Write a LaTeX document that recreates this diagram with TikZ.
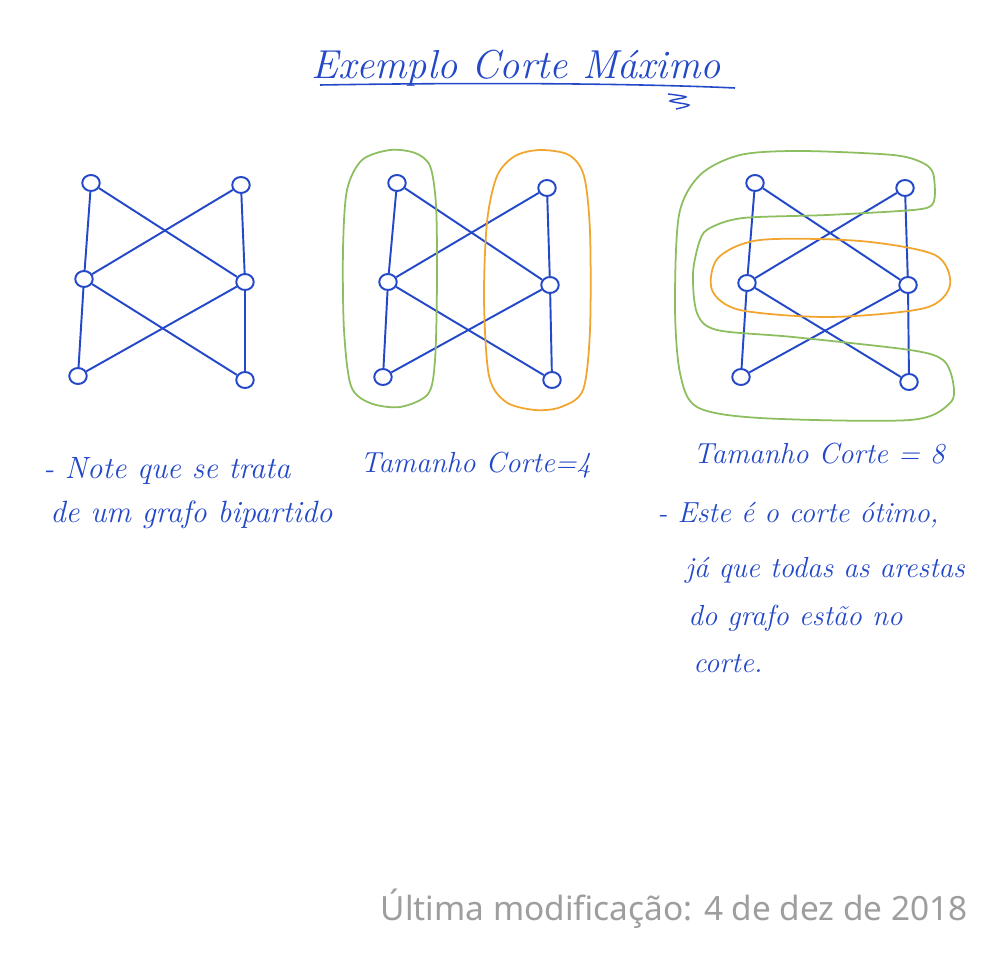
\documentclass[tikz,border=0pt]{standalone}
\usepackage{fontspec}
\newfontfamily\footfont{Noto Sans}
\usetikzlibrary{shapes.geometric}
\definecolor{penblue}{RGB}{35,72,200}
\definecolor{pengreen}{RGB}{140,190,95}
\definecolor{penorange}{RGB}{242,165,45}
\definecolor{footgray}{RGB}{158,158,158}
\tikzset{
  vtx/.style={ellipse, draw=penblue, line width=1.1pt, minimum width=0.35cm, minimum height=0.32cm, inner sep=0pt},
  edge/.style={draw=penblue, line width=1.1pt},
  hand/.style={text=penblue, font=\itshape\fontsize{16.5}{19}\selectfont, inner sep=0pt},
  handl/.style={hand, font=\itshape\fontsize{17.5}{20}\selectfont},
  grp/.style={line width=1pt, line join=round},
}
\begin{document}
\begin{tikzpicture}[x=0.02cm, y=-0.02cm]
\useasboundingbox (0,0) rectangle (1000,959);
\fill[white] (0,0) rectangle (1000,959);

% title
\node[hand, font=\itshape\fontsize{23}{27}\selectfont, anchor=base] (title) at (516,79) {Exemplo Corte Máximo};
\draw[penblue, line width=0.9pt] (320,85) .. controls (500,82) and (650,84) .. (735,88);
\draw[penblue, line width=0.8pt] plot[smooth] coordinates {(668,94) (686,97) (670,101) (689,105) (676,109)};

% graph 1
\node[vtx] (a1) at (91,183) {};
\node[vtx] (a2) at (241,185) {};
\node[vtx] (a3) at (84,279) {};
\node[vtx] (a4) at (245,282) {};
\node[vtx] (a5) at (78,376) {};
\node[vtx] (a6) at (245,380) {};
\draw[edge] (a1) -- (a3); \draw[edge] (a3) -- (a5);
\draw[edge] (a2) -- (a4); \draw[edge] (a4) -- (a6);
\draw[edge] (a1) -- (a4); \draw[edge] (a2) -- (a3);
\draw[edge] (a3) -- (a6); \draw[edge] (a5) -- (a4);

% graph 2
\node[vtx] (b1) at (397,183) {};
\node[vtx] (b2) at (547,188) {};
\node[vtx] (b3) at (388,282) {};
\node[vtx] (b4) at (550,285) {};
\node[vtx] (b5) at (383,377) {};
\node[vtx] (b6) at (552,380) {};
\draw[edge] (b1) -- (b3); \draw[edge] (b3) -- (b5);
\draw[edge] (b2) -- (b4); \draw[edge] (b4) -- (b6);
\draw[edge] (b1) -- (b4); \draw[edge] (b2) -- (b3);
\draw[edge] (b3) -- (b6); \draw[edge] (b5) -- (b4);
\draw[grp, pengreen] plot[smooth cycle] coordinates {(390,150) (415,153) (430,166) (436,205) (437,280) (435,360) (428,394) (400,407) (370,403) (351,386) (344,330) (343,250) (347,190) (362,160)};
\draw[grp, penorange] plot[smooth cycle] coordinates {(540,150) (569,155) (584,176) (590,232) (590,330) (583,390) (561,407) (535,410) (506,402) (489,376) (484,300) (487,222) (497,176) (515,156)};

% graph 3
\node[vtx] (c1) at (755,183) {};
\node[vtx] (c2) at (905,188) {};
\node[vtx] (c3) at (747,283) {};
\node[vtx] (c4) at (908,285) {};
\node[vtx] (c5) at (741,377) {};
\node[vtx] (c6) at (909,382) {};
\draw[edge] (c1) -- (c3); \draw[edge] (c3) -- (c5);
\draw[edge] (c2) -- (c4); \draw[edge] (c4) -- (c6);
\draw[edge] (c1) -- (c4); \draw[edge] (c2) -- (c3);
\draw[edge] (c3) -- (c6); \draw[edge] (c5) -- (c4);
\draw[grp, penorange] plot[smooth cycle] coordinates {(760,240) (860,241) (935,255) (950,285) (925,308) (830,317) (740,310) (712,290) (718,258)};
\draw[grp, pengreen] plot[smooth] coordinates {(935,192) (932,205) (913,210) (827,215) (743,218) (710,228) (700,240) (693,273) (697,313) (717,330) (793,337) (910,350) (943,360) (953,382) (950,403) (910,420) (760,418) (697,407) (680,373) (675,307) (679,215) (700,175) (740,155) (800,151) (893,155) (923,163) (933,173) (935,192)};

% labels
\node[handl, anchor=base west] (t1a) at (43,478) {- Note que se trata};
\node[handl, anchor=base west] (t1b) at (50,522) {de um grafo bipartido};
\node[hand, anchor=base west] (t2) at (360,472) {Tamanho Corte=4};
\node[hand, anchor=base west] (t3) at (693,463) {Tamanho Corte = 8};
\node[hand, anchor=base west] (t4a) at (657,522) {- Este é o corte ótimo,};
\node[hand, anchor=base west] (t4b) at (685,577) {já que todas as arestas};
\node[hand, anchor=base west] (t4c) at (688,625) {do grafo estão no};
\node[hand, anchor=base west] (t4d) at (693,672) {corte.};

% footer
\node[anchor=base east, inner sep=0pt, text=footgray, font=\footfont\fontsize{19}{22}\selectfont] (foot) at (968,920) {Última modificação: 4 de dez de 2018};
\end{tikzpicture}
\end{document}
